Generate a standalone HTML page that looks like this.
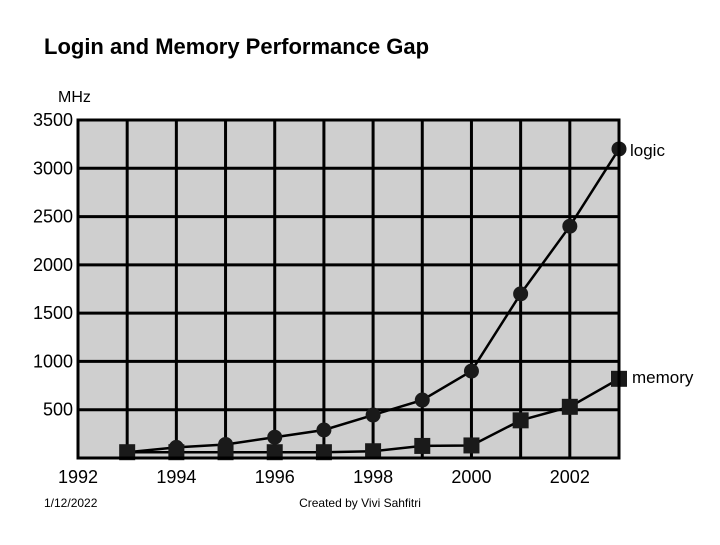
<!DOCTYPE html>
<html><head><meta charset="utf-8"><style>
body{margin:0;background:#fff;width:720px;height:540px;overflow:hidden;font-family:"Liberation Sans",Arial,sans-serif}
</style></head><body>
<svg width="720" height="540" xmlns="http://www.w3.org/2000/svg">
<text x="44" y="54" font-size="22" font-weight="bold" font-family="Liberation Sans">Login and Memory Performance Gap</text>
<text x="58" y="102" font-size="16" font-family="Liberation Sans">MHz</text>
<rect x="78" y="120" width="541" height="338" fill="#cfcfcf"/>
<g id="grid"></g>
<g id="series"></g>
<rect x="78" y="120" width="541" height="338" fill="none" stroke="#000" stroke-width="3"/>
<text x="44" y="507" font-size="12" font-family="Liberation Sans">1/12/2022</text>
<text x="360" y="507" font-size="12" text-anchor="middle" font-family="Liberation Sans">Created by Vivi Sahfitri</text>
</svg>
<script>
const years=[1993,1994,1995,1996,1997,1998,1999,2000,2001,2002,2003];
const logicValues=[60,110,140,215,290,445,600,900,1700,2400,3200];
const memoryValues=[60,60,60,60,60,70,125,130,390,530,820];
const yTicks=[500,1000,1500,2000,2500,3000,3500];
const xTicks=[1992,1994,1996,1998,2000,2002];
const NS="http://www.w3.org/2000/svg";
const X=v=>78+(v-1992)*(541/11);
const Y=v=>458-v*(338/3500);
function mk(tag,attrs,parent){const e=document.createElementNS(NS,tag);for(const k in attrs)e.setAttribute(k,attrs[k]);parent.appendChild(e);return e;}
const svg=document.querySelector('svg');
const grid=document.getElementById('grid');
for(let y=1993;y<=2002;y++){
 const l=mk('line',{x1:X(y),x2:X(y),y1:120,y2:458,stroke:'#000','stroke-width':3},grid);
 
 
}
yTicks.forEach(v=>{
 if(v<3500){const l=mk('line',{x1:78,x2:619,y1:Y(v),y2:Y(v),stroke:'#000','stroke-width':3},grid);
 
 }
 const t=mk('text',{x:73,y:Y(v)+6,'text-anchor':'end','font-size':18,'font-family':'Liberation Sans'},svg);
 t.textContent=v;
 
 
});
xTicks.forEach(v=>{
 const t=mk('text',{x:X(v),y:483,'text-anchor':'middle','font-size':18,'font-family':'Liberation Sans'},svg);
 t.textContent=v;
 
 
});
const s=document.getElementById('series');
function line(vals,name){
 const p=mk('polyline',{points:years.map((y,i)=>X(y)+','+Y(vals[i])).join(' '),fill:'none',stroke:'#000','stroke-width':2.5},s);
 
 
}
line(memoryValues,'memory-line');
line(logicValues,'logic-line');
years.forEach((y,i)=>{
 const c=mk('circle',{cx:X(y),cy:Y(logicValues[i]),r:7.5,fill:'#1a1a1a'},s);
 
 
 const r=mk('rect',{x:X(y)-8,y:Y(memoryValues[i])-8,width:16,height:16,fill:'#1a1a1a'},s);
 
 
});
const l1=mk('text',{x:630,y:Y(logicValues[10])+7,'font-size':17,'font-family':'Liberation Sans'},svg);
l1.textContent='logic';


const l2=mk('text',{x:632,y:Y(memoryValues[10])+4,'font-size':17,'font-family':'Liberation Sans'},svg);
l2.textContent='memory';


</script>
</body></html>
